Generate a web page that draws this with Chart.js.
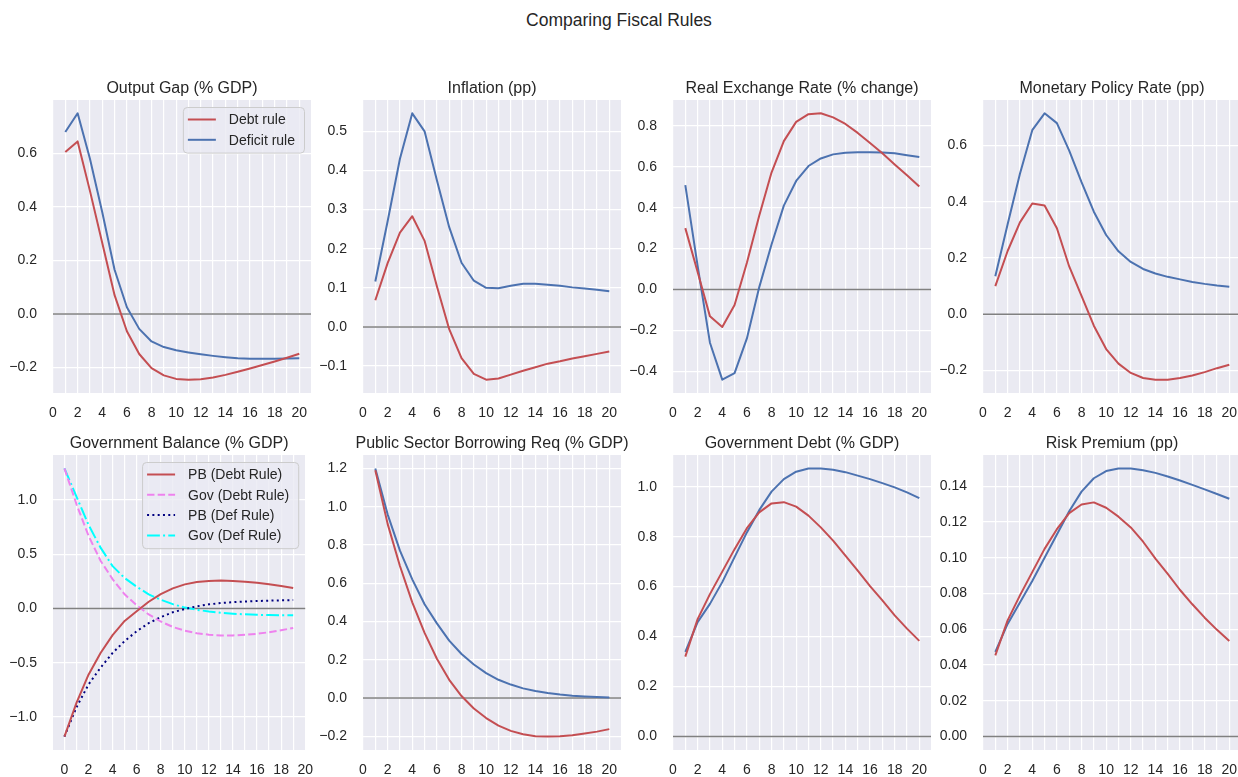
<!DOCTYPE html>
<html>
<head>
<meta charset="utf-8">
<script src="https://cdn.jsdelivr.net/npm/chart.js@4.4.1/dist/chart.umd.min.js"></script>
<style>
  html, body { margin: 0; padding: 0; background: #fff; width: 1238px; height: 777px; overflow: hidden; position: relative; }
  #sup { position: absolute; left: 0; top: 10px; width: 1238px; line-height: 20px; text-align: center;
         font: 17.5px "Liberation Sans", Arial, sans-serif; color: #262626; }
  canvas { position: absolute; }
</style>
</head>
<body>
<div id="sup">Comparing Fiscal Rules</div>
<script>
// ---- data ----
const periods    = [1,2,3,4,5,6,7,8,9,10,11,12,13,14,15,16,17,18,19,20];
const periodsBal = [0,1,2,3,4,5,6,7,8,9,10,11,12,13,14,15,16,17,18,19];
const X_TICKS    = [0,1,2,3,4,5,6,7,8,9,10,11,12,13,14,15,16,17,18,19,20];

const gapDebt = [0.605,0.645,0.46,0.265,0.07,-0.065,-0.15,-0.203,-0.23,-0.243,-0.246,-0.244,-0.238,-0.228,-0.216,-0.204,-0.191,-0.178,-0.164,-0.149];
const gapDef  = [0.68,0.75,0.58,0.38,0.165,0.025,-0.056,-0.103,-0.124,-0.136,-0.144,-0.151,-0.157,-0.162,-0.166,-0.168,-0.168,-0.168,-0.167,-0.166];

const inflDebt = [0.068,0.163,0.241,0.283,0.22,0.104,-0.006,-0.08,-0.12,-0.135,-0.132,-0.122,-0.112,-0.103,-0.094,-0.088,-0.081,-0.075,-0.069,-0.063];
const inflDef  = [0.116,0.27,0.43,0.546,0.50,0.375,0.255,0.164,0.118,0.10,0.099,0.105,0.11,0.11,0.108,0.105,0.101,0.098,0.095,0.091];

const rerDebt = [0.30,0.085,-0.132,-0.184,-0.076,0.13,0.36,0.572,0.726,0.82,0.858,0.862,0.842,0.81,0.766,0.717,0.666,0.612,0.559,0.504];
const rerDef  = [0.51,0.115,-0.261,-0.442,-0.41,-0.24,0.01,0.22,0.41,0.531,0.604,0.641,0.661,0.669,0.672,0.672,0.67,0.666,0.657,0.648];

const mprDebt = [0.10,0.225,0.327,0.394,0.387,0.306,0.17,0.065,-0.041,-0.124,-0.176,-0.209,-0.227,-0.233,-0.233,-0.227,-0.218,-0.206,-0.192,-0.18];
const mprDef  = [0.135,0.32,0.50,0.655,0.715,0.68,0.582,0.47,0.365,0.282,0.224,0.186,0.161,0.145,0.133,0.124,0.115,0.108,0.102,0.098];

const pbDebt  = [-1.18,-0.87,-0.61,-0.41,-0.245,-0.115,-0.025,0.062,0.132,0.185,0.222,0.243,0.254,0.257,0.254,0.247,0.236,0.223,0.206,0.188];
const govDebt = [1.29,0.96,0.67,0.44,0.27,0.13,0.03,-0.055,-0.12,-0.17,-0.205,-0.228,-0.242,-0.248,-0.248,-0.243,-0.233,-0.219,-0.2,-0.18];
const pbDef   = [-1.18,-0.91,-0.70,-0.545,-0.41,-0.30,-0.21,-0.135,-0.08,-0.035,-0.005,0.02,0.038,0.05,0.058,0.064,0.069,0.072,0.075,0.077];
const govDef  = [1.29,1.03,0.77,0.56,0.39,0.28,0.2,0.13,0.08,0.04,0.008,-0.012,-0.028,-0.04,-0.048,-0.054,-0.058,-0.061,-0.062,-0.063];

const psbrDebt = [1.19,0.91,0.69,0.50,0.34,0.205,0.095,0.01,-0.055,-0.105,-0.145,-0.172,-0.19,-0.2,-0.202,-0.2,-0.195,-0.186,-0.176,-0.163];
const psbrDef  = [1.2,0.96,0.77,0.62,0.49,0.39,0.30,0.23,0.175,0.13,0.095,0.07,0.05,0.036,0.026,0.018,0.012,0.008,0.005,0.003];

const debtDebt = [0.32,0.47,0.57,0.66,0.75,0.834,0.897,0.933,0.938,0.92,0.884,0.837,0.784,0.724,0.664,0.602,0.545,0.485,0.432,0.383];
const debtDef  = [0.339,0.458,0.531,0.618,0.718,0.817,0.906,0.98,1.03,1.06,1.073,1.073,1.068,1.058,1.044,1.03,1.014,0.997,0.977,0.954];

const rpDebt = [0.0454,0.065,0.079,0.092,0.105,0.116,0.125,0.1298,0.131,0.128,0.123,0.117,0.109,0.0995,0.091,0.082,0.074,0.0665,0.0597,0.0535];
const rpDef  = [0.0474,0.063,0.075,0.087,0.100,0.113,0.126,0.137,0.1445,0.1485,0.150,0.150,0.149,0.1475,0.1455,0.1432,0.1408,0.1383,0.1357,0.133];

const ticksGap  = [-0.2,0,0.2,0.4,0.6];
const ticksInfl = [-0.1,0,0.1,0.2,0.3,0.4,0.5];
const ticksRer  = [-0.4,-0.2,0,0.2,0.4,0.6,0.8];
const ticksMpr  = [-0.2,0,0.2,0.4,0.6];
const ticksBal  = [-1.0,-0.5,0,0.5,1.0];
const ticksPsbr = [-0.2,0,0.2,0.4,0.6,0.8,1.0,1.2];
const ticksDebt = [0,0.2,0.4,0.6,0.8,1.0];
const ticksRp   = [0,0.02,0.04,0.06,0.08,0.10,0.12,0.14];

// ---- styles ----
const FONT = '"Liberation Sans", Arial, sans-serif';
const TXT = '#262626';
const RED = '#C44E52', BLUE = '#4C72B0';
const LW = 2;
const sDebt = { borderColor: RED, borderWidth: LW };
const sDef  = { borderColor: BLUE, borderWidth: LW };
const sPbDebt  = { borderColor: RED, borderWidth: LW };
const sGovDebt = { borderColor: 'violet', borderWidth: LW, borderDash: [7.4, 3.2] };
const sPbDef   = { borderColor: 'navy', borderWidth: LW, borderDash: [2, 3.3] };
const sGovDef  = { borderColor: 'cyan', borderWidth: LW, borderDash: [12.8, 3.2, 2, 3.2] };

const COL_LEFT = [53, 363, 673, 983];
const ROW_TOP  = [100, 455];
const ROW_H    = [293, 295];
const PW = 258;

const PANELS = [
  { title: 'Output Gap (% GDP)', r: 0, c: 0, x: periods, yt: ticksGap, dec: 1, legend: true,
    series: [['Debt rule', gapDebt, sDebt], ['Deficit rule', gapDef, sDef]] },
  { title: 'Inflation (pp)', r: 0, c: 1, x: periods, yt: ticksInfl, dec: 1,
    series: [['Debt rule', inflDebt, sDebt], ['Deficit rule', inflDef, sDef]] },
  { title: 'Real Exchange Rate (% change)', r: 0, c: 2, x: periods, yt: ticksRer, dec: 1,
    series: [['Debt rule', rerDebt, sDebt], ['Deficit rule', rerDef, sDef]] },
  { title: 'Monetary Policy Rate (pp)', r: 0, c: 3, x: periods, yt: ticksMpr, dec: 1,
    series: [['Debt rule', mprDebt, sDebt], ['Deficit rule', mprDef, sDef]] },
  { title: 'Government Balance (% GDP)', r: 1, c: 0, x: periodsBal, yt: ticksBal, dec: 1, legend: true,
    series: [['PB (Debt Rule)', pbDebt, sPbDebt], ['Gov (Debt Rule)', govDebt, sGovDebt],
             ['PB (Def Rule)', pbDef, sPbDef], ['Gov (Def Rule)', govDef, sGovDef]] },
  { title: 'Public Sector Borrowing Req (% GDP)', r: 1, c: 1, x: periods, yt: ticksPsbr, dec: 1,
    series: [['Debt rule', psbrDebt, sDebt], ['Deficit rule', psbrDef, sDef]] },
  { title: 'Government Debt (% GDP)', r: 1, c: 2, x: periods, yt: ticksDebt, dec: 1,
    series: [['Debt rule', debtDebt, sDebt], ['Deficit rule', debtDef, sDef]] },
  { title: 'Risk Premium (pp)', r: 1, c: 3, x: periods, yt: ticksRp, dec: 2,
    series: [['Debt rule', rpDebt, sDebt], ['Deficit rule', rpDef, sDef]] },
];

// background, zero line, axes title and inner legend
const deco = {
  id: 'deco',
  beforeDraw(chart) {
    const a = chart.chartArea, ctx = chart.ctx;
    ctx.save();
    ctx.fillStyle = '#EAEAF2';
    ctx.fillRect(a.left, a.top, a.right - a.left, a.bottom - a.top);
    ctx.restore();
  },
  beforeDatasetsDraw(chart) {
    const a = chart.chartArea, ctx = chart.ctx;
    const y0 = chart.scales.y.getPixelForValue(0);
    ctx.save();
    ctx.strokeStyle = '#808080';
    ctx.lineWidth = 1.5;
    ctx.beginPath(); ctx.moveTo(a.left, y0); ctx.lineTo(a.right, y0); ctx.stroke();
    ctx.restore();
  },
  afterDraw(chart, args, opts) {
    const a = chart.chartArea, ctx = chart.ctx;
    ctx.save();
    ctx.fillStyle = TXT;
    ctx.font = '16px ' + FONT;
    ctx.textAlign = 'center';
    ctx.textBaseline = 'alphabetic';
    ctx.fillText(opts.title, (a.left + a.right) / 2, a.top - 7);
    if (opts.legend) {
      const ds = chart.data.datasets;
      ctx.font = '14px ' + FONT;
      const tw = Math.max(...ds.map(d => ctx.measureText(d.label).width));
      const padL = 5, hl = 28, gap = 13, padR = 9, rowH = 20.3;
      const w = padL + hl + gap + tw + padR, h = ds.length * rowH + 5;
      const x = a.right - 7 - w, y = a.top + 7;
      ctx.beginPath();
      ctx.roundRect(x + 0.5, y + 0.5, w, h, 4);
      ctx.fillStyle = 'rgba(234,234,242,0.8)';
      ctx.fill();
      ctx.strokeStyle = '#cccccc';
      ctx.lineWidth = 1;
      ctx.stroke();
      ds.forEach((d, i) => {
        const cy = y + 12.5 + i * rowH;
        ctx.strokeStyle = d.borderColor;
        ctx.lineWidth = d.borderWidth;
        ctx.setLineDash(d.borderDash || []);
        ctx.beginPath(); ctx.moveTo(x + padL, cy); ctx.lineTo(x + padL + hl, cy); ctx.stroke();
        ctx.setLineDash([]);
        ctx.fillStyle = TXT;
        ctx.textAlign = 'left';
        ctx.textBaseline = 'middle';
        ctx.fillText(d.label, x + padL + hl + gap, cy + 1);
      });
    }
    ctx.restore();
  }
};

const fmt = (v, dec) => (v < 0 ? '\u2212' : '') + Math.abs(v).toFixed(dec);

const PAD_L = 60, PAD_T = 40, PAD_R = 14, PAD_B = 32;

PANELS.forEach(p => {
  const L = COL_LEFT[p.c], T = ROW_TOP[p.r], H = ROW_H[p.r];
  const cv = document.createElement('canvas');
  cv.width = PAD_L + PW + PAD_R;
  cv.height = PAD_T + H + PAD_B;
  cv.style.left = (L - PAD_L) + 'px';
  cv.style.top = (T - PAD_T) + 'px';
  document.body.appendChild(cv);

  // matplotlib-like autoscale: 5% margins, zero line included, x ticks widen the view
  const all = p.series.flatMap(s => s[1]).concat([0]);
  const lo = Math.min(...all), hi = Math.max(...all), m = (hi - lo) * 0.05;
  const x0 = p.x[0], x1 = p.x[p.x.length - 1], mx = (x1 - x0) * 0.05;
  const xmin = Math.min(x0 - mx, X_TICKS[0]);
  const xmax = Math.max(x1 + mx, X_TICKS[X_TICKS.length - 1]);

  new Chart(cv, {
    type: 'line',
    data: {
      datasets: p.series.map(([label, vals, st]) => Object.assign({
        label,
        data: p.x.map((x, i) => ({ x, y: vals[i] })),
        pointRadius: 0, tension: 0, fill: false,
        borderJoinStyle: 'round', borderCapStyle: 'butt'
      }, st))
    },
    options: {
      responsive: false, animation: false, devicePixelRatio: 1,
      layout: { padding: { top: PAD_T, right: PAD_R, left: 0, bottom: 0 } },
      plugins: { legend: { display: false }, tooltip: { enabled: false }, deco: { title: p.title, legend: !!p.legend } },
      scales: {
        x: {
          type: 'linear', min: xmin, max: xmax,
          afterBuildTicks: s => { s.ticks = X_TICKS.map(v => ({ value: v })); },
          afterFit: s => { s.height = PAD_B; },
          grid: { color: '#ffffff', lineWidth: 1.2, drawTicks: false },
          border: { display: false },
          ticks: { autoSkip: false, maxRotation: 0, padding: 12, color: TXT, font: { family: FONT, size: 14 },
                   callback: v => (v % 2 === 0 ? String(v) : '') }
        },
        y: {
          type: 'linear', min: lo - m, max: hi + m,
          afterBuildTicks: s => { s.ticks = p.yt.map(v => ({ value: v })); },
          afterFit: s => { s.width = PAD_L; },
          grid: { color: '#ffffff', lineWidth: 1.2, drawTicks: false },
          border: { display: false },
          ticks: { padding: 16, color: TXT, font: { family: FONT, size: 14 }, callback: v => fmt(v, p.dec) }
        }
      }
    },
    plugins: [deco]
  });
});
</script>
</body>
</html>
